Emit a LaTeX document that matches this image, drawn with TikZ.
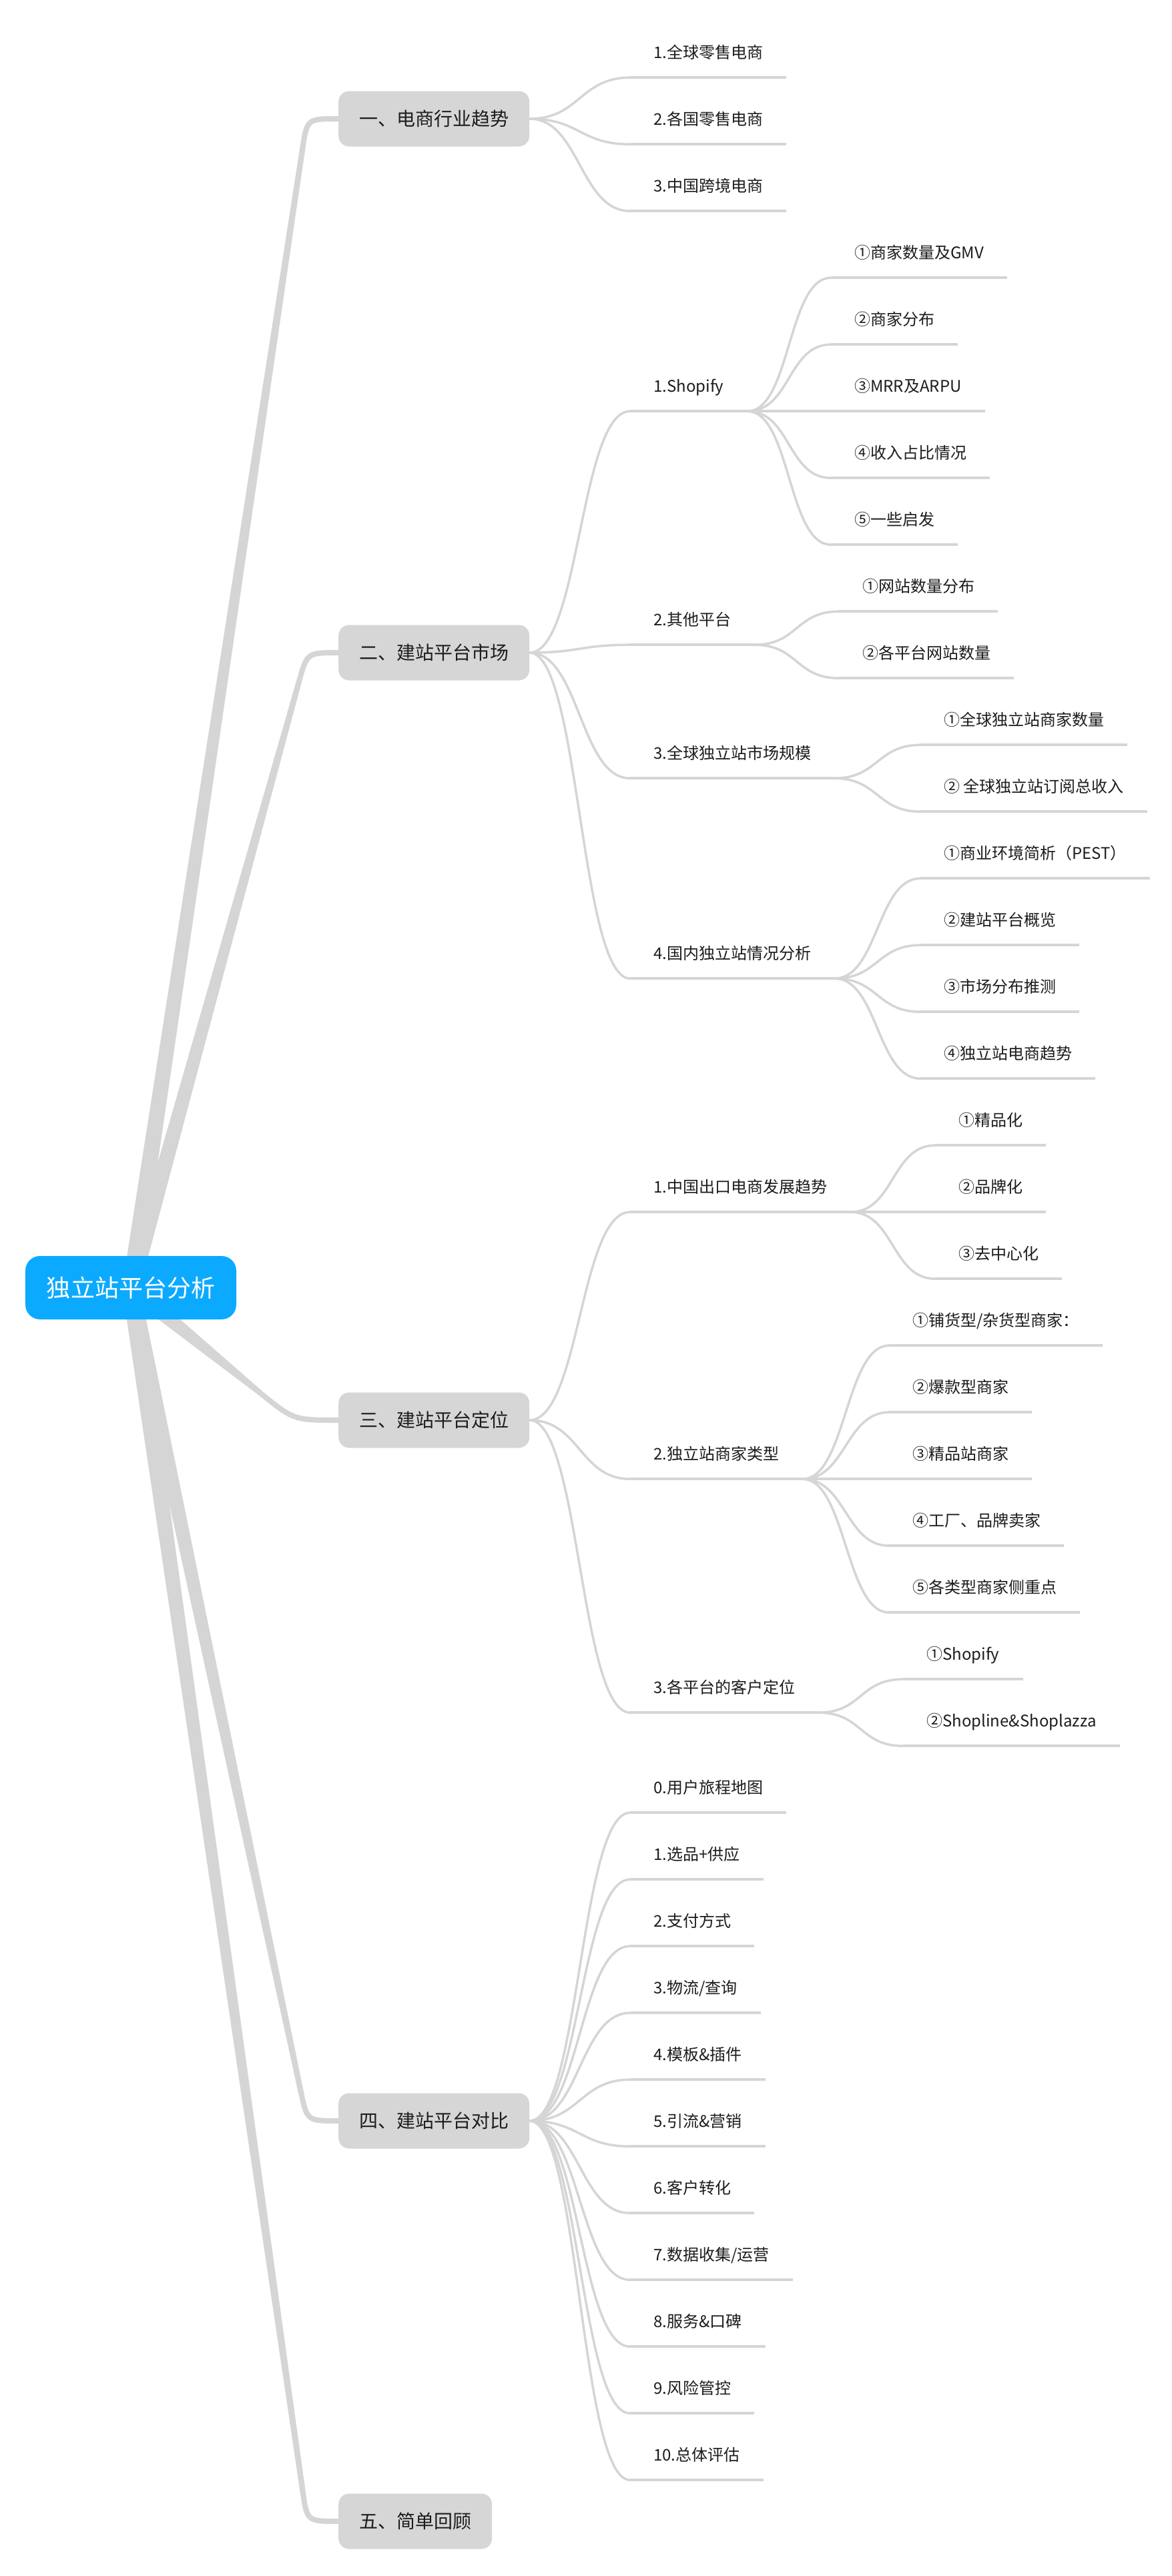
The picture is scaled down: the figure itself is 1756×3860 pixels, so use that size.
\documentclass[tikz,border=0pt]{standalone}
\usepackage{fontspec}
\setmainfont{Noto Sans CJK SC}
\usetikzlibrary{calc}
\definecolor{lineg}{RGB}{213,213,213}
\definecolor{boxg}{RGB}{214,214,214}
\definecolor{rootblue}{RGB}{12,170,255}
\definecolor{txt}{RGB}{28,28,28}
\pgfdeclarelayer{paper}
\pgfdeclarelayer{bg}
\pgfsetlayers{paper,bg,main}
\begin{document}
\begin{tikzpicture}[x=1bp,y=-1bp,
  rootnode/.style={fill=rootblue, text=white, rounded corners=22bp, minimum width=316bp, minimum height=95bp, inner sep=0pt, font=\fontsize{36bp}{40bp}\selectfont, text height=27.4bp, text depth=0pt},
  topic/.style={fill=boxg, text=txt, rounded corners=16bp, minimum height=83bp, inner xsep=31bp, inner ysep=0pt, font=\fontsize{28bp}{32bp}\selectfont, text height=21.3bp, text depth=0pt, anchor=west},
  leaf/.style={text=txt, minimum height=76bp, inner xsep=35bp, inner ysep=0pt, font=\fontsize{24bp}{28bp}\selectfont, text height=18.2bp, text depth=0pt, anchor=west},
  uline/.style={draw=lineg, line width=3.5bp},
  conn/.style={draw=lineg, line width=3.5bp},
  rootline/.style={draw=lineg, line width=8bp},
]
\begin{pgfonlayer}{paper}
\fill[white] (0,0) rectangle (1756,3860);
\end{pgfonlayer}
\useasboundingbox (0,0) rectangle (1756,3860);

% ---------- root ----------
\node[rootnode] (root) at (196,1929.5) {独立站平台分析};

% ---------- level 1 ----------
\node[topic] (b1) at (507,178)  {一、电商行业趋势};
\node[topic] (b2) at (507,978)  {二、建站平台市场};
\node[topic] (b3) at (507,2128) {三、建站平台定位};
\node[topic] (b4) at (507,3178) {四、建站平台对比};
\node[topic] (b5) at (507,3778) {五、简单回顾};

% ---------- level 2 ----------
\node[leaf] (a11) at (944,78)   {1.全球零售电商};
\node[leaf] (a12) at (944,178)  {2.各国零售电商};
\node[leaf] (a13) at (944,278)  {3.中国跨境电商};

\node[leaf] (a21) at (944,578)  {1.Shopify};
\node[leaf] (a22) at (944,928)  {2.其他平台};
\node[leaf] (a23) at (944,1128) {3.全球独立站市场规模};
\node[leaf] (a24) at (944,1428) {4.国内独立站情况分析};

\node[leaf] (a31) at (944,1778) {1.中国出口电商发展趋势};
\node[leaf] (a32) at (944,2178) {2.独立站商家类型};
\node[leaf] (a33) at (944,2528) {3.各平台的客户定位};

\node[leaf] (a40) at (944,2678) {0.用户旅程地图};
\node[leaf] (a41) at (944,2778) {1.选品+供应};
\node[leaf] (a42) at (944,2878) {2.支付方式};
\node[leaf] (a43) at (944,2978) {3.物流/查询};
\node[leaf] (a44) at (944,3078) {4.模板\&插件};
\node[leaf] (a45) at (944,3178) {5.引流\&营销};
\node[leaf] (a46) at (944,3278) {6.客户转化};
\node[leaf] (a47) at (944,3378) {7.数据收集/运营};
\node[leaf] (a48) at (944,3478) {8.服务\&口碑};
\node[leaf] (a49) at (944,3578) {9.风险管控};
\node[leaf] (a410) at (944,3678) {10.总体评估};

% ---------- level 3 ----------
\node[leaf] (c211) at (1245,378) {①商家数量及GMV};
\node[leaf] (c212) at (1245,478) {②商家分布};
\node[leaf] (c213) at (1245,578) {③MRR及ARPU};
\node[leaf] (c214) at (1245,678) {④收入占比情况};
\node[leaf] (c215) at (1245,778) {⑤一些启发};

\node[leaf] (c221) at (1257,878) {①网站数量分布};
\node[leaf] (c222) at (1257,978) {②各平台网站数量};

\node[leaf] (c231) at (1379,1078) {①全球独立站商家数量};
\node[leaf] (c232) at (1379,1178) {② 全球独立站订阅总收入};

\node[leaf] (c241) at (1379,1278) {①商业环境简析（PEST）};
\node[leaf] (c242) at (1379,1378) {②建站平台概览};
\node[leaf] (c243) at (1379,1478) {③市场分布推测};
\node[leaf] (c244) at (1379,1578) {④独立站电商趋势};

\node[leaf] (c311) at (1401,1678) {①精品化};
\node[leaf] (c312) at (1401,1778) {②品牌化};
\node[leaf] (c313) at (1401,1878) {③去中心化};

\node[leaf] (c321) at (1332,1978) {①铺货型/杂货型商家：};
\node[leaf] (c322) at (1332,2078) {②爆款型商家};
\node[leaf] (c323) at (1332,2178) {③精品站商家};
\node[leaf] (c324) at (1332,2278) {④工厂、品牌卖家};
\node[leaf] (c325) at (1332,2378) {⑤各类型商家侧重点};

\node[leaf] (c331) at (1353,2478) {①Shopify};
\node[leaf] (c332) at (1353,2578) {②Shopline\&Shoplazza};

% ---------- connectors (behind) ----------
\begin{pgfonlayer}{bg}
  \coordinate (R) at (root.center);
  % tapered main branches
  \foreach \b/\cx/\r in {b1/460/45, b2/460/45, b3/440/65, b4/460/45, b5/460/45} {
    \coordinate (C) at (\cx,0 |- \b.west);
    \coordinate (P1) at ($(C)!\r bp!(R)$);
    \draw[rootline] (R) -- (P1) .. controls (C) .. (\b.west);
    \fill[lineg] ($(R)!13bp!90:(C)$) -- ($(R)!13bp!-90:(C)$)
      -- ($(P1)!4bp!90:(R)$) -- ($(P1)!4bp!-90:(R)$) -- cycle;
  }
  % underlines
  \foreach \n in {a11,a12,a13,a21,a22,a23,a24,a31,a32,a33,a40,a41,a42,a43,a44,a45,a46,a47,a48,a49,a410,
                  c211,c212,c213,c214,c215,c221,c222,c231,c232,c241,c242,c243,c244,
                  c311,c312,c313,c321,c322,c323,c324,c325,c331,c332}
    \draw[uline] (\n.south west) -- (\n.south east);
  % level 1 -> level 2
  \foreach \p/\list in {b1/{a11,a12,a13}, b2/{a21,a22,a23,a24}, b3/{a31,a32,a33},
                        b4/{a40,a41,a42,a43,a44,a45,a46,a47,a48,a49,a410}}
    \foreach \c in \list
      \draw[conn] (\p.east) .. controls +(75,0) and +(-75,0) .. (\c.south west);
  % level 2 -> level 3
  \foreach \p/\list in {a21/{c211,c212,c213,c214,c215}, a22/{c221,c222}, a23/{c231,c232},
                        a24/{c241,c242,c243,c244}, a31/{c311,c312,c313},
                        a32/{c321,c322,c323,c324,c325}, a33/{c331,c332}}
    \foreach \c in \list
      \draw[conn] (\p.south east) .. controls +(65,0) and +(-65,0) .. (\c.south west);
\end{pgfonlayer}
\end{tikzpicture}
\end{document}
